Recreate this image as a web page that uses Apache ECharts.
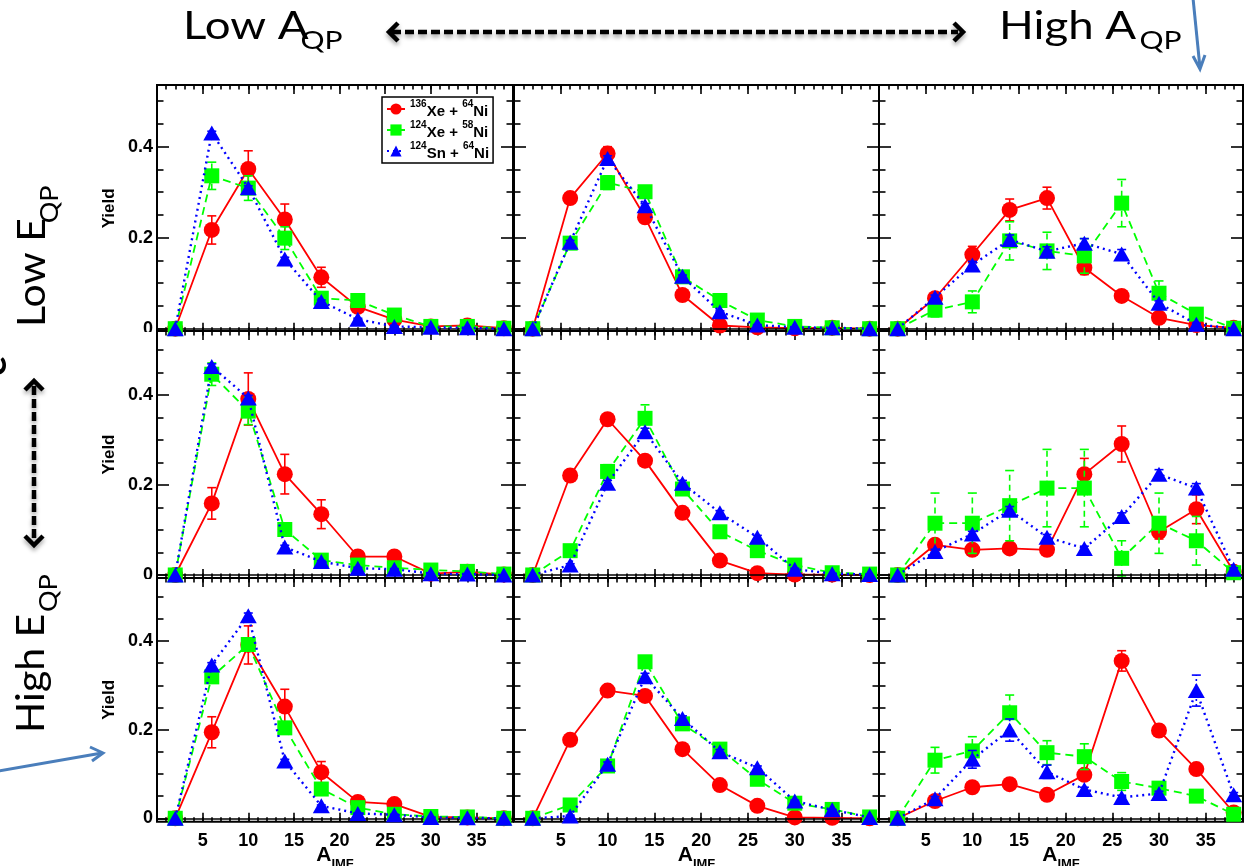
<!DOCTYPE html>
<html>
<head>
<meta charset="utf-8">
<script src="https://cdn.jsdelivr.net/npm/echarts@6/dist/echarts.min.js"></script>
<style>
  html, body { margin: 0; padding: 0; background: #ffffff; }
  #chart { width: 1251px; height: 866px; }
</style>
</head>
<body>
<div id="chart"></div>
<script>
// ---- data -------------------------------------------------------------
// fragment mass bins (A_IMF)
const fragmentMass = [2, 6, 10, 14, 18, 22, 26, 30, 34, 38];
const xTickLabels = [5, 10, 15, 20, 25, 30, 35];
const yTickLabels = [0, 0.2, 0.4];
const reactionKeys = ['Xe136Ni64', 'Xe124Ni58', 'Sn124Ni64'];

// Low E_QP, low A_QP
const lowE_lowA_xe136 = [0, 0.217, 0.351, 0.240, 0.113, 0.048, 0.020, 0.005, 0.007, 0.001];
const lowE_lowA_xe136Err = [0, 0.031, 0.040, 0.034, 0.022, 0.008, 0.005, 0.003, 0.003, 0];
const lowE_lowA_xe124 = [0, 0.336, 0.309, 0.199, 0.067, 0.062, 0.030, 0.005, 0.005, 0.001];
const lowE_lowA_xe124Err = [0, 0.030, 0.027, 0.025, 0.010, 0.008, 0.005, 0.002, 0.002, 0];
const lowE_lowA_sn124 = [0, 0.430, 0.310, 0.153, 0.060, 0.021, 0.005, 0.003, 0.002, 0];
const lowE_lowA_sn124Err = [0, 0.004, 0.004, 0.004, 0.003, 0.002, 0.001, 0, 0, 0];
// Low E_QP, mid A_QP
const lowE_midA_xe136 = [0, 0.287, 0.385, 0.245, 0.074, 0.007, 0.003, 0.001, 0.002, 0];
const lowE_midA_xe136Err = [0, 0.008, 0.015, 0.010, 0.006, 0.002, 0.001, 0, 0.001, 0];
const lowE_midA_xe124 = [0, 0.188, 0.321, 0.301, 0.114, 0.062, 0.019, 0.005, 0.002, 0];
const lowE_midA_xe124Err = [0, 0.006, 0.015, 0.012, 0.006, 0.004, 0.002, 0, 0, 0];
const lowE_midA_sn124 = [0, 0.190, 0.374, 0.270, 0.115, 0.037, 0.008, 0.003, 0.002, 0];
const lowE_midA_sn124Err = [0, 0.004, 0.006, 0.005, 0.003, 0.002, 0.001, 0, 0, 0];
// Low E_QP, high A_QP
const lowE_highA_xe136 = [0, 0.067, 0.163, 0.261, 0.287, 0.134, 0.072, 0.024, 0.008, 0.002];
const lowE_highA_xe136Err = [0, 0.008, 0.018, 0.024, 0.024, 0.015, 0.006, 0.004, 0.002, 0];
const lowE_highA_xe124 = [0, 0.041, 0.059, 0.193, 0.171, 0.160, 0.276, 0.078, 0.032, 0.001];
const lowE_highA_xe124Err = [0, 0.015, 0.024, 0.042, 0.041, 0.038, 0.052, 0.027, 0.010, 0];
const lowE_highA_sn124 = [0, 0.069, 0.140, 0.196, 0.170, 0.188, 0.164, 0.056, 0.010, 0];
const lowE_highA_sn124Err = [0, 0.005, 0.008, 0.010, 0.010, 0.010, 0.010, 0.005, 0.002, 0];

// Mid E_QP, low A_QP
const midE_lowA_xe136 = [0, 0.159, 0.391, 0.224, 0.135, 0.041, 0.041, 0.003, 0.007, 0.001];
const midE_lowA_xe136Err = [0, 0.035, 0.058, 0.044, 0.032, 0.012, 0.012, 0.002, 0.002, 0];
const midE_lowA_xe124 = [0, 0.446, 0.364, 0.101, 0.033, 0.022, 0.016, 0.011, 0.008, 0.002];
const midE_lowA_xe124Err = [0, 0.025, 0.030, 0.008, 0.005, 0.004, 0.003, 0.002, 0.002, 0];
const midE_lowA_sn124 = [0, 0.463, 0.393, 0.062, 0.030, 0.015, 0.013, 0.003, 0.002, 0];
const midE_lowA_sn124Err = [0, 0.006, 0.006, 0.004, 0.002, 0.002, 0.001, 0, 0, 0];
// Mid E_QP, mid A_QP
const midE_midA_xe136 = [0, 0.221, 0.346, 0.254, 0.138, 0.032, 0.004, 0.001, 0.001, 0];
const midE_midA_xe136Err = [0, 0.006, 0.012, 0.008, 0.005, 0.003, 0.001, 0, 0, 0];
const midE_midA_xe124 = [0, 0.054, 0.230, 0.348, 0.191, 0.096, 0.054, 0.022, 0.005, 0.002];
const midE_midA_xe124Err = [0, 0.005, 0.015, 0.030, 0.012, 0.006, 0.004, 0.002, 0.001, 0];
const midE_midA_sn124 = [0, 0.022, 0.204, 0.318, 0.204, 0.138, 0.084, 0.013, 0.003, 0.001];
const midE_midA_sn124Err = [0, 0.003, 0.006, 0.008, 0.006, 0.005, 0.004, 0.002, 0, 0];
// Mid E_QP, high A_QP
const midE_highA_xe136 = [0, 0.067, 0.056, 0.059, 0.056, 0.224, 0.291, 0.096, 0.146, 0.007];
const midE_highA_xe136Err = [0, 0.012, 0.012, 0.012, 0.012, 0.035, 0.040, 0.016, 0.032, 0.003];
const midE_highA_xe124 = [0, 0.115, 0.115, 0.154, 0.193, 0.193, 0.037, 0.115, 0.076, 0.005];
const midE_highA_xe124Err = [0, 0.067, 0.067, 0.078, 0.086, 0.086, 0.039, 0.067, 0.054, 0.003];
const midE_highA_sn124 = [0, 0.052, 0.091, 0.144, 0.084, 0.059, 0.130, 0.224, 0.193, 0.013];
const midE_highA_sn124Err = [0, 0.005, 0.006, 0.008, 0.006, 0.005, 0.008, 0.010, 0.010, 0.003];

// High E_QP, low A_QP
const highE_lowA_xe136 = [0, 0.194, 0.391, 0.252, 0.104, 0.037, 0.032, 0.003, 0.002, 0];
const highE_lowA_xe136Err = [0, 0.035, 0.043, 0.039, 0.024, 0.006, 0.005, 0.001, 0.001, 0];
const highE_lowA_xe124 = [0, 0.319, 0.392, 0.204, 0.066, 0.024, 0.009, 0.004, 0.003, 0];
const highE_lowA_xe124Err = [0, 0.008, 0.012, 0.008, 0.004, 0.002, 0.001, 0, 0, 0];
const highE_lowA_sn124 = [0, 0.346, 0.457, 0.129, 0.028, 0.011, 0.008, 0.002, 0.001, 0];
const highE_lowA_sn124Err = [0, 0.005, 0.006, 0.004, 0.002, 0.001, 0.001, 0, 0, 0];
// High E_QP, mid A_QP
const highE_midA_xe136 = [0, 0.177, 0.288, 0.276, 0.156, 0.075, 0.028, 0.002, 0.001, 0];
const highE_midA_xe136Err = [0, 0.005, 0.008, 0.008, 0.005, 0.003, 0.002, 0, 0, 0];
const highE_midA_xe124 = [0, 0.030, 0.118, 0.353, 0.213, 0.156, 0.088, 0.034, 0.020, 0.003];
const highE_midA_xe124Err = [0, 0.003, 0.006, 0.010, 0.008, 0.006, 0.004, 0.002, 0.002, 0];
const highE_midA_sn124 = [0, 0.005, 0.122, 0.319, 0.225, 0.150, 0.114, 0.039, 0.019, 0.002];
const highE_midA_sn124Err = [0, 0.002, 0.005, 0.008, 0.006, 0.005, 0.004, 0.002, 0.001, 0];
// High E_QP, high A_QP
const highE_highA_xe136 = [0, 0.039, 0.070, 0.077, 0.053, 0.098, 0.355, 0.198, 0.111, 0.013];
const highE_highA_xe136Err = [0, 0.004, 0.005, 0.005, 0.005, 0.008, 0.023, 0.012, 0.008, 0.003];
const highE_highA_xe124 = [0, 0.131, 0.152, 0.238, 0.148, 0.139, 0.083, 0.068, 0.050, 0.009];
const highE_highA_xe124Err = [0, 0.029, 0.032, 0.040, 0.027, 0.029, 0.020, 0.010, 0.010, 0.002];
const highE_highA_sn124 = [0, 0.044, 0.133, 0.199, 0.105, 0.065, 0.047, 0.056, 0.288, 0.053];
const highE_highA_sn124Err = [0, 0.005, 0.020, 0.025, 0.015, 0.005, 0.005, 0.005, 0.035, 0.005];

// ---- panel table (row-major: E_QP rows, A_QP columns) -------------------
const panelSets = [
  [lowE_lowA_xe136, lowE_lowA_xe136Err, lowE_lowA_xe124, lowE_lowA_xe124Err, lowE_lowA_sn124, lowE_lowA_sn124Err],
  [lowE_midA_xe136, lowE_midA_xe136Err, lowE_midA_xe124, lowE_midA_xe124Err, lowE_midA_sn124, lowE_midA_sn124Err],
  [lowE_highA_xe136, lowE_highA_xe136Err, lowE_highA_xe124, lowE_highA_xe124Err, lowE_highA_sn124, lowE_highA_sn124Err],
  [midE_lowA_xe136, midE_lowA_xe136Err, midE_lowA_xe124, midE_lowA_xe124Err, midE_lowA_sn124, midE_lowA_sn124Err],
  [midE_midA_xe136, midE_midA_xe136Err, midE_midA_xe124, midE_midA_xe124Err, midE_midA_sn124, midE_midA_sn124Err],
  [midE_highA_xe136, midE_highA_xe136Err, midE_highA_xe124, midE_highA_xe124Err, midE_highA_sn124, midE_highA_sn124Err],
  [highE_lowA_xe136, highE_lowA_xe136Err, highE_lowA_xe124, highE_lowA_xe124Err, highE_lowA_sn124, highE_lowA_sn124Err],
  [highE_midA_xe136, highE_midA_xe136Err, highE_midA_xe124, highE_midA_xe124Err, highE_midA_sn124, highE_midA_sn124Err],
  [highE_highA_xe136, highE_highA_xe136Err, highE_highA_xe124, highE_highA_xe124Err, highE_highA_sn124, highE_highA_sn124Err]
];

// ---- layout & style -----------------------------------------------------
const colBoxes = [[157, 356], [514, 365], [879, 364]];
const rowBoxes = [[85, 246.7], [331, 247], [578, 243.7]];
const rowRanges = [[-0.0066, 0.5356], [-0.0067, 0.542], [-0.0077, 0.542]];
const X_RANGE = [0, 39];
const FONT = 'Liberation Sans, Arial, Helvetica, sans-serif';
const DECO_FONT = 'Lato, "Open Sans", sans-serif';

const seriesStyles = [
  { color: '#ff0000', symbol: 'circle', size: 16, line: 'solid', width: 1.8, errDash: null },
  { color: '#00ff00', symbol: 'rect', size: 15, line: [8, 5], width: 1.8, errDash: [6, 4] },
  { color: '#0000ff', symbol: 'triangle', size: [17, 15], line: [2, 4], width: 2.4, errDash: [2, 3] }
];

const xMajor = xTickLabels.slice();
const xMinor = [];
for (let v = 1; v < 39; v++) xMinor.push(v);
const yMajor = yTickLabels.slice();
const yMinor = [0.05, 0.1, 0.15, 0.25, 0.3, 0.35, 0.45, 0.5];

function errorBars(color, dash) {
  return function (params, api) {
    const x = api.value(0), y = api.value(1), e = api.value(2);
    if (!(e > 0)) return { type: 'group', children: [] };
    const lo = api.coord([x, y - e]);
    const hi = api.coord([x, y + e]);
    const cap = 4.5;
    const base = { stroke: color, lineWidth: 1.6, fill: null };
    return {
      type: 'group',
      children: [
        { type: 'line', shape: { x1: lo[0], y1: lo[1], x2: hi[0], y2: hi[1] }, style: Object.assign({}, base, { lineDash: dash }) },
        { type: 'line', shape: { x1: lo[0] - cap, y1: lo[1], x2: lo[0] + cap, y2: lo[1] }, style: base },
        { type: 'line', shape: { x1: hi[0] - cap, y1: hi[1], x2: hi[0] + cap, y2: hi[1] }, style: base }
      ]
    };
  };
}

const grids = [], xAxes = [], yAxes = [], series = [];
const tickLine = { color: '#000', width: 1.6 };

panelSets.forEach((set, i) => {
  const row = Math.floor(i / 3), col = i % 3;
  const [left, width] = colBoxes[col];
  const [top, height] = rowBoxes[row];
  grids.push({ left, top, width, height, show: true, borderColor: '#000', borderWidth: 2, backgroundColor: '#fff',
    containLabel: false, outerBoundsMode: 'none' });

  const xBase = { gridIndex: i, type: 'value', min: X_RANGE[0], max: X_RANGE[1], splitLine: { show: false },
    axisLine: { show: false, onZero: false }, axisLabel: { show: false } };
  xAxes.push(Object.assign({}, xBase, {
    position: 'bottom',
    axisTick: { show: true, inside: true, length: 9, customValues: xMajor, lineStyle: tickLine },
    axisLabel: { show: row === 2, customValues: xTickLabels, margin: 10, fontSize: 18, fontWeight: 'bold', color: '#000', fontFamily: FONT },
    name: row === 2 ? '{a|A}{s|IMF}' : '',
    nameLocation: 'middle', nameGap: 23, nameMoveOverlap: false,
    nameTextStyle: {
      rich: {
        a: { fontSize: 21, fontWeight: 'bold', fontFamily: FONT, color: '#000', lineHeight: 26, verticalAlign: 'top' },
        s: { fontSize: 13, fontWeight: 'bold', fontFamily: FONT, color: '#000', lineHeight: 12, verticalAlign: 'bottom' }
      }
    }
  }));
  xAxes.push(Object.assign({}, xBase, { position: 'bottom',
    axisTick: { show: true, inside: true, length: 4.5, customValues: xMinor, lineStyle: tickLine } }));
  xAxes.push(Object.assign({}, xBase, { position: 'top',
    axisTick: { show: true, inside: true, length: 9, customValues: xMajor, lineStyle: tickLine } }));
  xAxes.push(Object.assign({}, xBase, { position: 'top',
    axisTick: { show: true, inside: true, length: 4.5, customValues: xMinor, lineStyle: tickLine } }));

  const [ymin, ymax] = rowRanges[row];
  const yBase = { gridIndex: i, type: 'value', min: ymin, max: ymax, splitLine: { show: false },
    axisLine: { show: false, onZero: false }, axisLabel: { show: false } };
  yAxes.push(Object.assign({}, yBase, {
    position: 'left',
    axisTick: { show: true, inside: true, length: 12, customValues: yMajor, lineStyle: tickLine },
    axisLabel: { show: col === 0, customValues: yTickLabels, margin: 4, fontSize: 18, fontWeight: 'bold', color: '#000', fontFamily: FONT,
      formatter: v => (v === 0 ? '0' : v.toFixed(1)) },
    name: col === 0 ? 'Yield' : '',
    nameLocation: 'middle', nameRotate: 90, nameGap: 39, nameMoveOverlap: false,
    nameTextStyle: { fontSize: 17, fontWeight: 'bold', color: '#000', fontFamily: FONT }
  }));
  yAxes.push(Object.assign({}, yBase, { position: 'left',
    axisTick: { show: true, inside: true, length: 6.5, customValues: yMinor, lineStyle: tickLine } }));
  yAxes.push(Object.assign({}, yBase, { position: 'right',
    axisTick: { show: true, inside: true, length: 12, customValues: yMajor, lineStyle: tickLine } }));
  yAxes.push(Object.assign({}, yBase, { position: 'right',
    axisTick: { show: true, inside: true, length: 6.5, customValues: yMinor, lineStyle: tickLine } }));

  for (let k = 0; k < 3; k++) {
    const vals = set[2 * k], errs = set[2 * k + 1];
    const st = seriesStyles[k];
    series.push({
      type: 'custom', silent: true, animation: false,
      xAxisIndex: i * 4, yAxisIndex: i * 4, z: 2 + 2 * k, clip: false,
      renderItem: errorBars(st.color, st.errDash),
      data: fragmentMass.map((x, j) => [x, vals[j], errs[j]])
    });
    const line = {
      type: 'line', name: reactionKeys[k], animation: false, silent: true,
      xAxisIndex: i * 4, yAxisIndex: i * 4, z: 3 + 2 * k, clip: false,
      symbol: st.symbol, symbolSize: st.size, showAllSymbol: true,
      itemStyle: { color: st.color, borderWidth: 0 },
      lineStyle: { color: st.color, width: st.width, type: st.line },
      data: fragmentMass.map((x, j) => [x, vals[j]])
    };
    if (k === 0) {
      line.markLine = {
        silent: true, symbol: 'none', animation: false, label: { show: false },
        lineStyle: { color: '#000', width: 1.6, type: 'solid' },
        data: [{ yAxis: 0 }]
      };
    }
    series.push(line);
  }
});

// ---- annotations --------------------------------------------------------
const BLUE = '#4a7ebb';
const shadow = { shadowBlur: 4, shadowColor: 'rgba(0,0,0,0.35)', shadowOffsetY: 3 };

function labelText(x, y, text, size) {
  return { type: 'text', x, y,
    style: { text, fill: '#000', fontFamily: DECO_FONT, fontSize: size, align: 'left', verticalAlign: 'middle' } };
}
// main word plus "QP" subscript, stretched along the reading direction
function subscriptLabel(x, y, rotation, stretch, main, subX, subY) {
  return { type: 'group', x, y, rotation, scaleX: stretch, z: 120, children: [
    labelText(0, 0, main, 38),
    labelText(subX, subY, 'QP', 25)
  ] };
}

const graphics = [
  // horizontal A_QP arrow
  subscriptLabel(183, 27, 0, 1.2, 'Low A', 98, 14),
  subscriptLabel(999, 27, 0, 1.2, 'High A', 117, 14),
  { type: 'line', z: 110, shape: { x1: 392, y1: 32, x2: 958, y2: 32 },
    style: Object.assign({ stroke: '#000', lineWidth: 4.5, lineDash: [9, 4] }, shadow) },
  { type: 'polyline', z: 110, shape: { points: [[398, 23], [389, 32], [398, 41]] },
    style: Object.assign({ stroke: '#000', lineWidth: 4.5, fill: null, lineJoin: 'miter' }, shadow) },
  { type: 'polyline', z: 110, shape: { points: [[954, 23], [963, 32], [954, 41]] },
    style: Object.assign({ stroke: '#000', lineWidth: 4.5, fill: null, lineJoin: 'miter' }, shadow) },

  // vertical E_QP arrow and labels
  subscriptLabel(33, 327, Math.PI / 2, 1.08, 'Low E', 96, 17),
  subscriptLabel(32, 733, Math.PI / 2, 1.08, 'High E', 112, 17),
  { type: 'line', z: 110, shape: { x1: 34, y1: 386, x2: 34, y2: 540 },
    style: Object.assign({ stroke: '#000', lineWidth: 4.5, lineDash: [9, 4] }, shadow) },
  { type: 'polyline', z: 110, shape: { points: [[25, 390], [34, 381], [43, 390]] },
    style: Object.assign({ stroke: '#000', lineWidth: 4.5, fill: null }, shadow) },
  { type: 'polyline', z: 110, shape: { points: [[25, 536], [34, 545], [43, 536]] },
    style: Object.assign({ stroke: '#000', lineWidth: 4.5, fill: null }, shadow) },
  // edge of a caption that runs off the left margin
  { type: 'text', x: -6, y: 366, rotation: Math.PI / 2, z: 120,
    style: { text: 'e', fill: '#000', fontFamily: DECO_FONT, fontWeight: 'bold', fontSize: 38, align: 'center', verticalAlign: 'middle' } },

  // pointer arrows
  { type: 'line', z: 110, shape: { x1: 1193, y1: -2, x2: 1200, y2: 68 }, style: { stroke: BLUE, lineWidth: 3 } },
  { type: 'polyline', z: 110, shape: { points: [[1193, 56], [1200, 69], [1205, 55]] }, style: { stroke: BLUE, lineWidth: 3, fill: null } },
  { type: 'line', z: 110, shape: { x1: -2, y1: 771, x2: 102, y2: 753 }, style: { stroke: BLUE, lineWidth: 3 } },
  { type: 'polyline', z: 110, shape: { points: [[90, 747], [103, 753], [92, 761]] }, style: { stroke: BLUE, lineWidth: 3, fill: null } },

  // lower pads overlap the bottom of the "0" labels of the row above
  { type: 'rect', z: 130, shape: { x: 110, y: 332, width: 45, height: 8 }, style: { fill: '#fff' } },
  { type: 'rect', z: 130, shape: { x: 110, y: 579, width: 45, height: 8 }, style: { fill: '#fff' } }
];

const legendNames = {
  Xe136Ni64: '{s|136}{m|Xe + }{s|64}{m|Ni}',
  Xe124Ni58: '{s|124}{m|Xe + }{s|58}{m|Ni}',
  Sn124Ni64: '{s|124}{m|Sn + }{s|64}{m|Ni}'
};

const chart = echarts.init(document.getElementById('chart'), null, { renderer: 'canvas' });
chart.setOption({
  backgroundColor: '#ffffff',
  animation: false,
  grid: grids,
  xAxis: xAxes,
  yAxis: yAxes,
  series: series,
  legend: {
    data: reactionKeys,
    left: 382, top: 97, orient: 'vertical',
    backgroundColor: '#fff', borderColor: '#000', borderWidth: 1.5,
    padding: [2, 4, 2, 4], itemGap: 1, itemWidth: 18, itemHeight: 14,
    selectedMode: false,
    formatter: name => legendNames[name],
    textStyle: {
      color: '#000', fontFamily: FONT, fontWeight: 'bold', fontSize: 15,
      rich: {
        m: { fontSize: 15, fontWeight: 'bold', fontFamily: FONT, color: '#000', lineHeight: 20, verticalAlign: 'bottom' },
        s: { fontSize: 10, fontWeight: 'bold', fontFamily: FONT, color: '#000', lineHeight: 12, verticalAlign: 'top' }
      }
    }
  },
  graphic: { elements: graphics }
});
</script>
</body>
</html>
